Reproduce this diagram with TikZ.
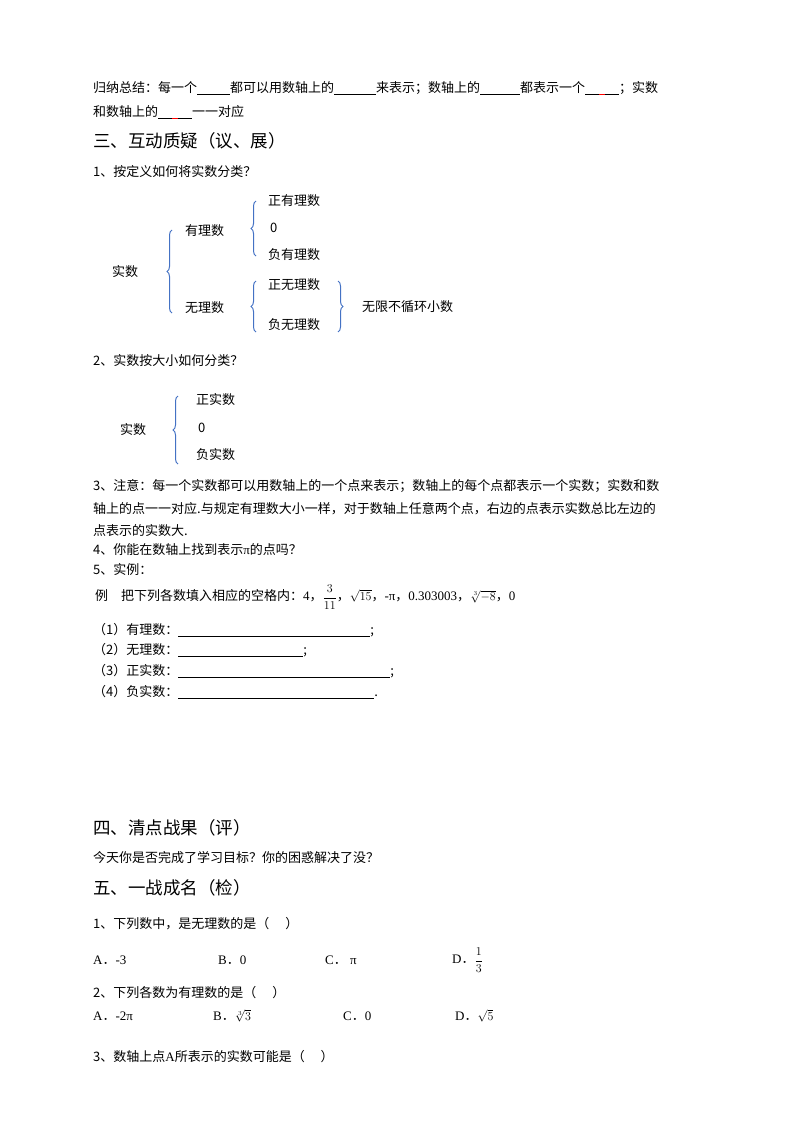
\documentclass[tikz,border=0pt]{standalone}
\usepackage{amsmath}
\usepackage{fontspec}
\setmainfont{Noto Sans CJK SC}
\newfontfamily\lsr{Liberation Serif}
\usetikzlibrary{decorations.pathreplacing}
\definecolor{bblue}{RGB}{68,114,196}
\newcommand{\blank}[1]{\rule[-2pt]{#1pt}{0.6pt}}
\newcommand{\rblank}[1]{\rule[-2pt]{#1pt}{0.6pt}\textcolor{red}{\rule[-2pt]{6pt}{0.6pt}}\rule[-2pt]{#1pt}{0.6pt}}
\begin{document}
\begin{tikzpicture}[x=1pt,y=-1pt,
  t/.style={anchor=west,inner sep=0pt,font=\fontsize{13}{15}\selectfont},
  h/.style={anchor=west,inner sep=0pt,font=\fontsize{17.5}{20}\selectfont},
  br/.style={draw=bblue,line width=1pt,decorate,decoration={brace,amplitude=5pt}}]
\useasboundingbox (0,0) rectangle (800,1132);
\node[t] (l1) at (93,88) {归纳总结：每一个\blank{33}都可以用数轴上的\blank{42}来表示；数轴上的\blank{40}都表示一个\rblank{14}；实数};
\node[t] (l2) at (93,112) {和数轴上的\rblank{14}一一对应};
\node[h] (h3) at (93,141) {三、互动质疑（议、展）};
\node[t] (q1) at (93,172) {1、按定义如何将实数分类？};
\node[t] (sr) at (112,272) {实数};
\draw[br] (172,313) -- (172,230);
\node[t] (yl) at (185,231) {有理数};
\node[t] (wl) at (185,308) {无理数};
\draw[br] (256,256) -- (256,201);
\node[t] (a1) at (268,201) {正有理数};
\node[t] (a2) at (270,228) {0};
\node[t] (a3) at (268,255) {负有理数};
\draw[br] (256,332) -- (256,281);
\node[t] (b1) at (268,285) {正无理数};
\node[t] (b2) at (268,325) {负无理数};
\draw[br,decoration={brace,amplitude=5pt,mirror}] (338,332) -- (338,281);
\node[t] (b3) at (362,307) {无限不循环小数};
\node[t] (q2) at (93,361) {2、实数按大小如何分类？};
\node[t] (sr2) at (120,430) {实数};
\draw[br] (178,464) -- (178,396);
\node[t] (c1) at (196,400) {正实数};
\node[t] (c2) at (198,428) {0};
\node[t] (c3) at (196,455) {负实数};
\node[t] (n1) at (93,486) {3、注意：每一个实数都可以用数轴上的一个点来表示；数轴上的每个点都表示一个实数；实数和数};
\node[t] (n2) at (93,509) {轴上的点一一对应.与规定有理数大小一样，对于数轴上任意两个点，右边的点表示实数总比左边的};
\node[t] (n3) at (93,531) {点表示的实数大.};
\node[t] (n4) at (93,550) {4、你能在数轴上找到表示{\lsr π}的点吗？};
\node[t] (n5) at (93,570) {5、实例：};
\node[t] (ex) at (95,597) {例\quad 把下列各数填入相应的空格内：{\lsr 4}，{\large$\dfrac{3}{11}$}，{\large$\sqrt{15}$}，{\lsr -π}，{\lsr 0.303003}，{\large$\sqrt[3]{-8}$}，{\lsr 0}};
\node[t] (e1) at (93,630) {（1）有理数：\blank{192};};
\node[t] (e2) at (93,650) {（2）无理数：\blank{125};};
\node[t] (e3) at (93,671) {（3）正实数：\blank{212};};
\node[t] (e4) at (93,692) {（4）负实数：\blank{196}.};
\node[h] (h4) at (93,828) {四、清点战果（评）};
\node[t] (p1) at (93,858) {今天你是否完成了学习目标？你的困惑解决了没？};
\node[h] (h5) at (93,888) {五、一战成名（检）};
\node[t] (k1) at (93,924) {1、下列数中，是无理数的是（\quad\ ）};
\node[t] (o1) at (93,960) {{\lsr A}．{\lsr -3}};
\node[t] (o2) at (218,960) {{\lsr B}．{\lsr 0}};
\node[t] (o3) at (325,960) {{\lsr C}．{\lsr\ π}};
\node[t] (o4) at (452,960) {{\lsr D}．{\large$\dfrac{1}{3}$}};
\node[t] (k2) at (93,993) {2、下列各数为有理数的是（\quad\ ）};
\node[t] (p5) at (93,1016) {{\lsr A}．{\lsr -2π}};
\node[t] (p6) at (213,1016) {{\lsr B}．{\large$\sqrt[3]{3}$}};
\node[t] (p7) at (343,1016) {{\lsr C}．{\lsr 0}};
\node[t] (p8) at (455,1016) {{\lsr D}．{\large$\sqrt{5}$}};
\node[t] (k3) at (93,1057) {3、数轴上点{\lsr A}所表示的实数可能是（\quad\ ）};
\end{tikzpicture}
\end{document}
